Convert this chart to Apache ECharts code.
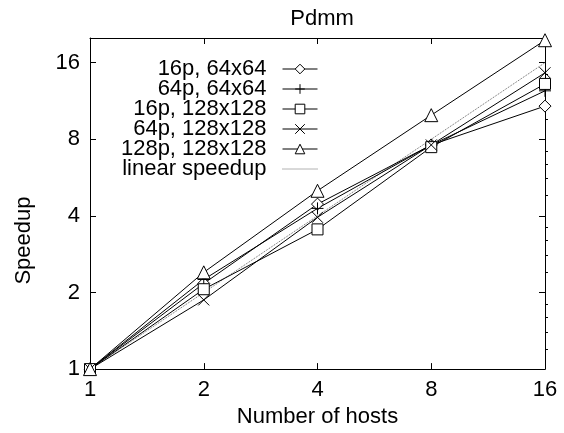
<!DOCTYPE html>
<html>
<head>
<meta charset="utf-8">
<script src="https://cdn.jsdelivr.net/npm/echarts@6/dist/echarts.min.js"></script>
<style>
  html, body { margin: 0; padding: 0; background: #fff; }
  #main { width: 564px; height: 433px; }
</style>
</head>
<body>
<div id="main"></div>
<script>
var chart = echarts.init(document.getElementById('main'));

// values
var hosts = [1, 2, 4, 8, 16];
var p16_64 = [1, 2.17, 4.45, 7.6, 10.8];
var p64_64 = [1, 2.25, 4.28, 7.6, 12.4];
var p16_128 = [1, 2.06, 3.54, 7.45, 13.2];
var p64_128 = [1, 1.87, 3.95, 7.6, 14.6];
var p128_128 = [1, 2.4, 5.02, 9.95, 19.6];
var linear = [1, 2, 4, 8, 16];
var tickLabels = ['1', '2', '4', '8', '16'];

var font = 'Liberation Sans, Arial, sans-serif';
var plusPath = 'path://M0,5L10,5M5,0L5,10';
var crossPath = 'path://M0,0L10,10M0,10L10,0';

function pairs(ys) {
  return hosts.map(function (x, i) { return [x, ys[i]]; });
}

function powLabel(v) {
  var k = tickLabels.indexOf(String(Math.round(v * 1000) / 1000));
  return k >= 0 ? tickLabels[k] : '';
}

function mkSeries(name, ys, symbol, size) {
  return {
    name: name,
    type: 'line',
    data: pairs(ys),
    symbol: symbol,
    symbolSize: size,
    showSymbol: true,
    lineStyle: { color: '#000', width: 1 },
    itemStyle: { color: '#fff', borderColor: '#000', borderWidth: 1 },
    emphasis: { disabled: true },
    z: 3
  };
}

var logAxisBase = {
  type: 'log',
  logBase: 2,
  axisLine: { show: true, lineStyle: { color: '#000', width: 1 } },
  axisTick: { show: true, inside: true, length: 6, lineStyle: { color: '#000' } },
  splitLine: { show: false },
  axisLabel: { show: false }
};

var option = {
  animation: false,
  backgroundColor: '#fff',
  title: {
    text: 'Pdmm',
    left: 317,
    textAlign: 'center',
    top: 3,
    textStyle: { fontFamily: font, fontSize: 22, fontWeight: 'normal', color: '#000' }
  },
  grid: { left: 90, right: 19, top: 38, bottom: 54 },
  legend: {
    orient: 'vertical',
    right: 246,
    top: 58,
    align: 'right',
    padding: 0,
    itemGap: -2,
    itemWidth: 35,
    itemHeight: 12,
    itemStyle: { borderWidth: 1 },
    lineStyle: { width: 1 },
    textStyle: { fontFamily: font, fontSize: 22, color: '#000', padding: [0, 11, 0, 0] },
    data: [
      '16p, 64x64', '64p, 64x64', '16p, 128x128', '64p, 128x128', '128p, 128x128',
      {
        name: 'linear speedup',
        itemStyle: { opacity: 0 },
        lineStyle: { color: '#666', width: 1, type: 'dotted', opacity: 1 }
      }
    ]
  },
  xAxis: [
    Object.assign({}, logAxisBase, {
      min: 1, max: 16,
      name: 'Number of hosts',
      nameLocation: 'middle',
      nameGap: 32,
      nameTextStyle: { fontFamily: font, fontSize: 22, color: '#000' },
      axisLabel: { show: true, margin: 10, fontFamily: font, fontSize: 22, color: '#000', formatter: powLabel }
    }),
    Object.assign({}, logAxisBase, { min: 1, max: 16, position: 'top' })
  ],
  yAxis: [
    Object.assign({}, logAxisBase, {
      min: 1, max: 20,
      name: 'Speedup',
      nameLocation: 'middle',
      nameGap: 55,
      nameTextStyle: { fontFamily: font, fontSize: 22, color: '#000', padding: [0, 74, 0, 0] },
      axisLabel: { show: true, margin: 10, fontFamily: font, fontSize: 22, color: '#000', formatter: powLabel }
    }),
    Object.assign({}, logAxisBase, { min: 1, max: 20, position: 'right' }),
    Object.assign({}, logAxisBase, {
      min: 1, max: 20, position: 'right',
      axisLine: { show: false },
      axisTick: { show: false, inside: false },
      minorTick: { show: true, splitNumber: 5, length: 3, lineStyle: { color: '#000' } }
    })
  ],
  series: [
    mkSeries('16p, 64x64', p16_64, 'diamond', [12, 12]),
    mkSeries('64p, 64x64', p64_64, plusPath, 12),
    mkSeries('16p, 128x128', p16_128, 'rect', 11),
    mkSeries('64p, 128x128', p64_128, crossPath, 11),
    mkSeries('128p, 128x128', p128_128, 'triangle', 13),
    {
      name: 'linear speedup',
      type: 'line',
      data: pairs(linear),
      symbol: 'none',
      lineStyle: { color: '#666', width: 1, type: 'dotted' },
      itemStyle: { color: '#666' },
      emphasis: { disabled: true },
      z: 2
    }
  ]
};

chart.setOption(option);
</script>
</body>
</html>
